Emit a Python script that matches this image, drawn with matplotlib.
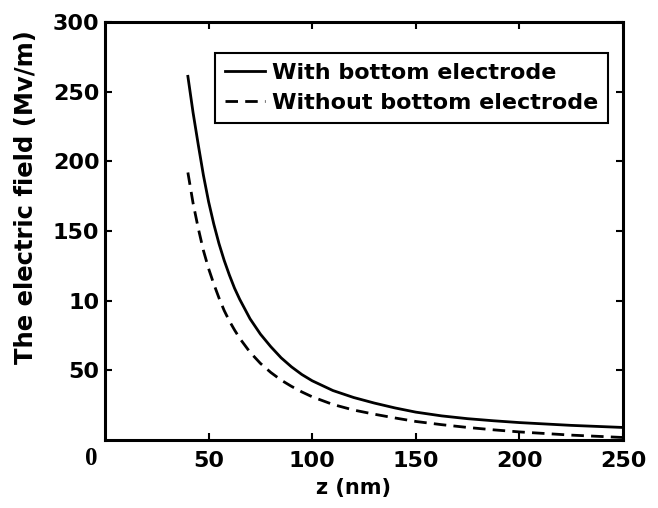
import matplotlib
matplotlib.use('Agg')
import matplotlib.pyplot as plt

# field along z
z_with = [40, 42.5, 45, 47.5, 50, 52.5, 55, 57.5, 60, 62.5, 65, 70, 75, 80, 85, 90, 95, 100,
          110, 120, 130, 140, 150, 162.5, 175, 187.5, 200, 225, 250]
e_with = [261, 235, 212, 190, 171, 155, 141, 129, 118.5, 109, 101, 87, 76, 67, 59, 52.5, 47, 42.5,
          35.5, 30.5, 26.5, 23, 20, 17.3, 15.3, 13.8, 12.5, 10.5, 9]

z_without = [40, 42.5, 45, 47.5, 50, 52.5, 55, 57.5, 60, 62.5, 65, 70, 75, 80, 85, 90, 95, 100,
             110, 120, 130, 140, 150, 162.5, 175, 187.5, 200, 225, 250]
e_without = [192, 170, 152, 136, 123, 112, 102, 93, 85.5, 79, 73, 63, 55, 48.5, 43, 38.5, 34.5, 31,
             25.5, 21.5, 18.5, 15.8, 13.3, 11, 9, 7.3, 5.8, 3.5, 1.8]

xticks = [50, 100, 150, 200, 250]
yticks = [50, 100, 150, 200, 250, 300]
ytick_labels = ['50', '10', '150', '200', '250', '300']

plt.rcParams['font.family'] = ['DejaVu Sans']
plt.rcParams['font.weight'] = 'bold'

fig = plt.figure(figsize=(6.58, 5.08), dpi=100)
ax = fig.add_axes([105/658, 68/508, 518/658, 418/508])

ax.plot(z_with, e_with, 'k-', lw=2, label='With bottom electrode')
ax.plot(z_without, e_without, 'k--', lw=2, dashes=(4.5, 2.6),
        label='Without bottom electrode')

ax.set_xlim(0, 250)
ax.set_ylim(0, 300)
ax.set_xticks(xticks)
ax.set_xticklabels([str(t) for t in xticks], fontsize=16, fontweight='bold')
ax.set_yticks(yticks)
ax.set_yticklabels(ytick_labels, fontsize=16, fontweight='bold')
ax.tick_params(direction='in', length=5, width=1.5, top=True, right=True)
ax.tick_params(axis='x', pad=8)
ax.tick_params(axis='y', pad=4)
for s in ax.spines.values():
    s.set_linewidth(2.2)

# stray origin label in a serif face
ax.text(-6.7, -0.017, '0', transform=ax.get_xaxis_transform(), ha='center', va='top',
        fontsize=18, fontweight='bold', family='Liberation Serif')

ax.set_xlabel('z (nm)', fontsize=15, fontweight='bold')
ax.xaxis.set_label_coords(0.479, -0.09)
ax.set_ylabel('The electric field (Mv/m)', fontsize=17.5, fontweight='bold')
ax.yaxis.set_label_coords(-0.13, 0.58)

leg = ax.legend(loc='upper right', bbox_to_anchor=(0.971, 0.926), fancybox=False,
                edgecolor='black', framealpha=1, handlelength=1.8, handletextpad=0.3,
                borderpad=0.45, labelspacing=0.45, borderaxespad=0,
                prop={'size': 16, 'weight': 'bold'})
leg.get_frame().set_linewidth(1.5)

fig.savefig('out.png', dpi=100)
